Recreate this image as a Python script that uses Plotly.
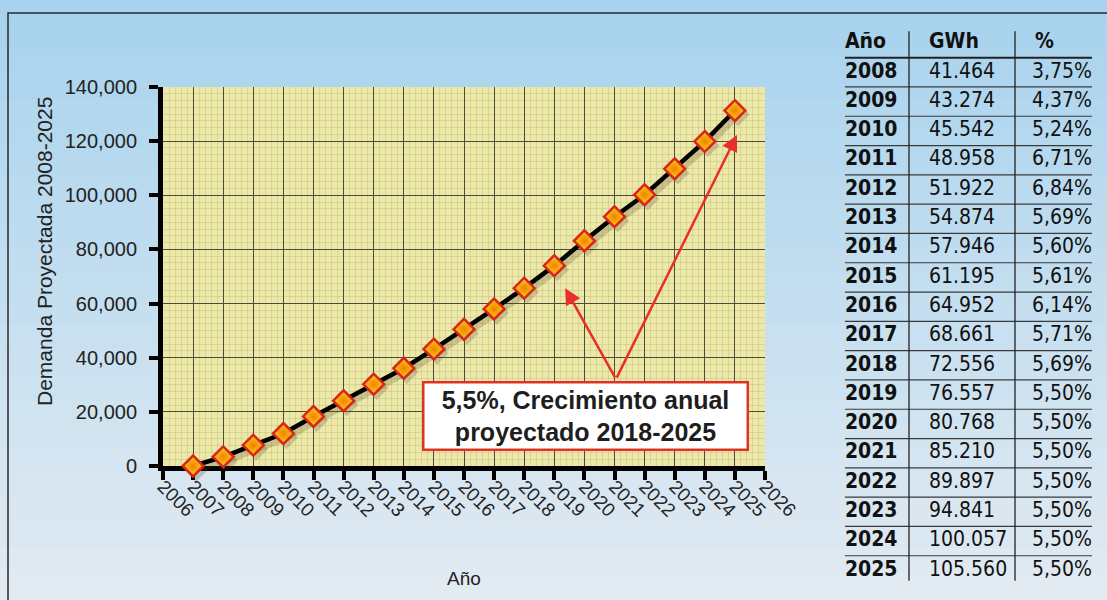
import plotly.graph_objects as go

# ---------------- data ----------------
years = list(range(2007, 2026))
demand = [0, 3400, 7700, 12000, 18300, 24100, 30200, 36100, 43200, 50500,
          58000, 65700, 74000, 83200, 92100, 100200, 109800, 119900, 131300]

tab_years = [str(y) for y in range(2008, 2026)]
tab_gwh = ["41.464", "43.274", "45.542", "48.958", "51.922", "54.874", "57.946",
           "61.195", "64.952", "68.661", "72.556", "76.557", "80.768", "85.210",
           "89.897", "94.841", "100.057", "105.560"]
tab_pct = ["3,75%", "4,37%", "5,24%", "6,71%", "6,84%", "5,69%", "5,60%", "5,61%",
           "6,14%", "5,71%", "5,69%", "5,50%", "5,50%", "5,50%", "5,50%", "5,50%",
           "5,50%", "5,50%"]
tab_header = ["Año", "GWh", "%"]

y_title = "Demanda Proyectada 2008-2025"
x_title = "Año"
note_text = "5,5%, Crecimiento anual<br>proyectado 2018-2025"

# ---------------- geometry (fractions of the 1107x600 canvas) ----------------
W, H = 1107, 600
PL, PR, PT, PB = 163, 765, 87, 466


def fx(px):
    return px / W


def fy(py):
    return 1 - py / H


FONT = "Liberation Sans, Arial, sans-serif"
NARROW = "Liberation Sans Narrow, DejaVu Sans Condensed, Arial Narrow, sans-serif"

fig = go.Figure()

# shadow of the line (offset subplot)
fig.add_trace(go.Scatter(
    x=years, y=demand, xaxis="x2", yaxis="y2", mode="lines+markers",
    line=dict(color="rgba(80,60,30,0.22)", width=7),
    marker=dict(symbol="diamond", size=18, color="rgba(80,60,30,0.22)"),
    hoverinfo="skip", showlegend=False, cliponaxis=False))

# main line
fig.add_trace(go.Scatter(
    x=years, y=demand, xaxis="x3", yaxis="y3", mode="lines+markers",
    line=dict(color="black", width=4.5),
    marker=dict(symbol="diamond", size=16, color="#ffd21a",
                gradient=dict(type="radial", color="#f08000"),
                line=dict(color="#d8261a", width=2.5)),
    showlegend=False, cliponaxis=False, name="Demanda"))

# table (text on its own hidden axes); row 0 = header
rows = list(range(1, len(tab_years) + 1))
COL_ANO, COL_GWH, COL_PCT_R, COL_PCT_H = 0.053, 0.357, 0.946, 0.740
TFONT = dict(family=NARROW, size=21, color="#111")
fig.add_trace(go.Scatter(
    x=[COL_ANO, COL_GWH, COL_PCT_H], y=[0, 0, 0], text=[f"<b>{t}</b>" for t in tab_header],
    mode="text", textposition="middle right", xaxis="x4", yaxis="y4",
    textfont=TFONT, showlegend=False, hoverinfo="skip", cliponaxis=False))
fig.add_trace(go.Scatter(
    x=[COL_ANO] * len(rows), y=rows, text=[f"<b>{t}</b>" for t in tab_years],
    mode="text", textposition="middle right", xaxis="x4", yaxis="y4",
    textfont=TFONT, showlegend=False, hoverinfo="skip", cliponaxis=False))
fig.add_trace(go.Scatter(
    x=[COL_GWH] * len(rows), y=rows, text=tab_gwh,
    mode="text", textposition="middle right", xaxis="x4", yaxis="y4",
    textfont=TFONT, showlegend=False, hoverinfo="skip", cliponaxis=False))
fig.add_trace(go.Scatter(
    x=[COL_PCT_R] * len(rows), y=rows, text=tab_pct,
    mode="text", textposition="middle left", xaxis="x4", yaxis="y4",
    textfont=TFONT, showlegend=False, hoverinfo="skip", cliponaxis=False))

shapes = []
# sky gradient background
top = (168, 211, 238)
bot = (226, 235, 242)
nb = 24
for i in range(nb):
    t = i / (nb - 1)
    c = tuple(int(top[k] + (bot[k] - top[k]) * t) for k in range(3))
    shapes.append(dict(type="rect", xref="paper", yref="paper",
                       x0=0, x1=1, y0=1 - (i + 1) / nb, y1=1 - i / nb + 0.002,
                       fillcolor=f"rgb{c}", line=dict(width=0), layer="below"))
# frame line
shapes.append(dict(type="path", xref="paper", yref="paper",
                   path=f"M {fx(8)},0 L {fx(8)},{fy(13)} L 1,{fy(13)}",
                   line=dict(color="#2a2a2a", width=1.5), layer="below"))
# plot area paper colour
shapes.append(dict(type="rect", xref="x domain", yref="y domain", x0=0, x1=1, y0=0, y1=1,
                   fillcolor="#ece8a9", line=dict(width=0), layer="below"))
# table rules
for r in range(len(tab_years)):
    shapes.append(dict(type="line", xref="x4", yref="y4", x0=COL_ANO, x1=COL_PCT_R,
                       y0=r + 0.5, y1=r + 0.5,
                       line=dict(color="#222" if r == 0 else "#3a3a3a", width=2 if r == 0 else 1.2)))
for xv in (0.2845, 0.6676):
    shapes.append(dict(type="line", xref="x4", yref="y4", x0=xv, x1=xv, y0=-0.4, y1=18.35,
                       line=dict(color="#222", width=1.3)))

annotations = [
    dict(x=2020.05, y=18500, xref="x", yref="y", text=f"<b>{note_text}</b>", showarrow=False,
         font=dict(family=FONT, size=25, color="#1e1e1e"), bgcolor="white",
         bordercolor="#e0322a", borderwidth=2.5, borderpad=2, width=318, align="center"),
    dict(x=2019.36, y=65700, ax=2021.05, ay=32100, xref="x", yref="y", axref="x", ayref="y",
         text="", showarrow=True, arrowhead=2, arrowsize=1.3, arrowwidth=2.5, arrowcolor="#e8302a"),
    dict(x=2025.07, y=122300, ax=2021.05, ay=32100, xref="x", yref="y", axref="x", ayref="y",
         text="", showarrow=True, arrowhead=2, arrowsize=1.3, arrowwidth=2.5, arrowcolor="#e8302a"),
    # y-axis title
    dict(x=fx(45), y=fy(252), xref="paper", yref="paper", text=y_title, showarrow=False,
         textangle=-90, font=dict(family=FONT, size=21, color="#222"),
         xanchor="center", yanchor="middle"),
]

xdom = [fx(PL), fx(PR)]
ydom = [fy(PB), fy(PT)]
xr = [2006, 2026]
yr = [0, 140000]

fig.update_layout(
    width=W, height=H, autosize=False, margin=dict(l=0, r=0, t=0, b=0, pad=0),
    paper_bgcolor="#cfe3f0", plot_bgcolor="rgba(0,0,0,0)",
    font=dict(family=FONT, color="#222"),
    showlegend=False,
    shapes=shapes, annotations=annotations,
    xaxis=dict(domain=xdom, range=xr, tick0=2006, dtick=1, tickangle=45, automargin=False,
               showgrid=True, gridcolor="#4f4c36", gridwidth=1,
               minor=dict(dtick=0.2, showgrid=True, gridcolor="rgba(175,165,95,0.28)", gridwidth=1),
               showline=True, linecolor="black", linewidth=5,
               ticks="outside", ticklen=9, tickwidth=4, tickcolor="black",
               ticklabelstandoff=-12,
               tickfont=dict(size=19, color="#222"), zeroline=False, anchor="y",
               title=dict(text=x_title, font=dict(size=19, color="#222"), standoff=53)),
    yaxis=dict(domain=ydom, range=yr, dtick=20000, tickformat=",d", automargin=False,
               showgrid=True, gridcolor="#4f4c36", gridwidth=1,
               minor=dict(dtick=2500, showgrid=True, gridcolor="rgba(175,165,95,0.28)", gridwidth=1),
               showline=True, linecolor="black", linewidth=5,
               ticks="outside", ticklen=9, tickwidth=4, tickcolor="black",
               ticklabelstandoff=8,
               tickfont=dict(size=20, color="#222"), zeroline=False, anchor="x"),
    xaxis2=dict(domain=[fx(PL + 3), fx(PR + 3)], range=xr, visible=False, anchor="y2", automargin=False),
    yaxis2=dict(domain=[fy(PB + 4), fy(PT + 4)], range=yr, visible=False, anchor="x2", automargin=False),
    xaxis3=dict(domain=xdom, range=xr, visible=False, anchor="y3", automargin=False),
    yaxis3=dict(domain=ydom, range=yr, visible=False, anchor="x3", automargin=False),
    xaxis4=dict(domain=[0.75, 1.0], range=[0, 1], visible=False, anchor="y4", automargin=False),
    yaxis4=dict(domain=[0, 1], range=[(H - 43) / 29.3, -43 / 29.3], visible=False, anchor="x4",
                automargin=False),
)

fig.write_html(
    "out.html",
    config={"displayModeBar": False},
    post_script="document.body.style.margin='0';document.body.style.overflow='hidden';",
)
